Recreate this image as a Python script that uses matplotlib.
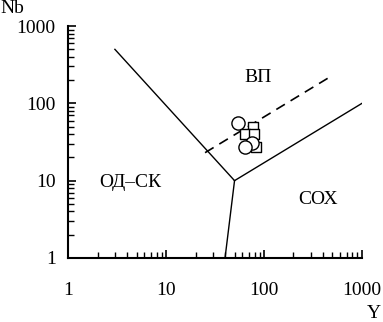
import numpy as np
import matplotlib.pyplot as plt

plt.rcParams['font.family'] = ['Liberation Serif', 'DejaVu Serif']

# Sample data (Y, Nb)
circ_y = [54, 75, 64]
circ_nb = [55, 31, 27]
sq_y = [77, 64, 79, 83]
sq_nb = [49, 40, 40, 27]

# Field boundaries
b1_y = [3, 50]
b1_nb = [500, 10]
b2_y = [50, 1000]
b2_nb = [10, 100]
b3_y = [50, 40]
b3_nb = [10, 1]
dash_y = [25, 500]
dash_nb = [23, 230]

fig = plt.figure(figsize=(3.83, 3.22), dpi=100)
ax = fig.add_axes([0.178, 0.199, 0.767, 0.72])

ax.plot(b1_y, b1_nb, color='k', lw=1.0)
ax.plot(b2_y, b2_nb, color='k', lw=1.0)
ax.plot(b3_y, b3_nb, color='k', lw=1.0)
ax.plot(dash_y, dash_nb, color='k', lw=1.2, dashes=(6, 4))

ax.scatter(sq_y, sq_nb, marker='s', s=60, facecolors='white', edgecolors='k', linewidths=1.0, zorder=3)
ax.scatter(circ_y, circ_nb, marker='o', s=90, facecolors='white', edgecolors='k', linewidths=1.0, zorder=4)

ax.set_xscale('log')
ax.set_yscale('log')
ax.set_xlim(1, 1000)
ax.set_ylim(1, 1000)
ax.set_xticks([1, 10, 100, 1000])
ax.set_xticklabels(['1', '10', '100', '1000'])
ax.set_yticks([1, 10, 100, 1000])
ax.set_yticklabels(['1', '10', '100', '1000'])

for s in ['top', 'right']:
    ax.spines[s].set_visible(False)
for s in ['left', 'bottom']:
    ax.spines[s].set_linewidth(1.5)

ax.tick_params(which='major', direction='in', length=6, width=1.2, labelsize=14)
ax.tick_params(which='minor', direction='in', length=4, width=1.0)
ax.tick_params(axis='x', which='major', pad=17)
ax.tick_params(axis='y', which='major', pad=9)

fig.text(0.0, 1.0, 'Nb', fontsize=14, ha='left', va='top')
fig.text(0.995, 0.0, 'Y', fontsize=14, ha='right', va='bottom')

ax.text(87, 215, 'ВП', fontsize=14, ha='center', va='center')
ax.text(4.3, 9.4, 'ОД–СК', fontsize=14, ha='center', va='center')
ax.text(355, 5.7, 'СОХ', fontsize=14, ha='center', va='center')

fig.savefig('out.png', dpi=100)
